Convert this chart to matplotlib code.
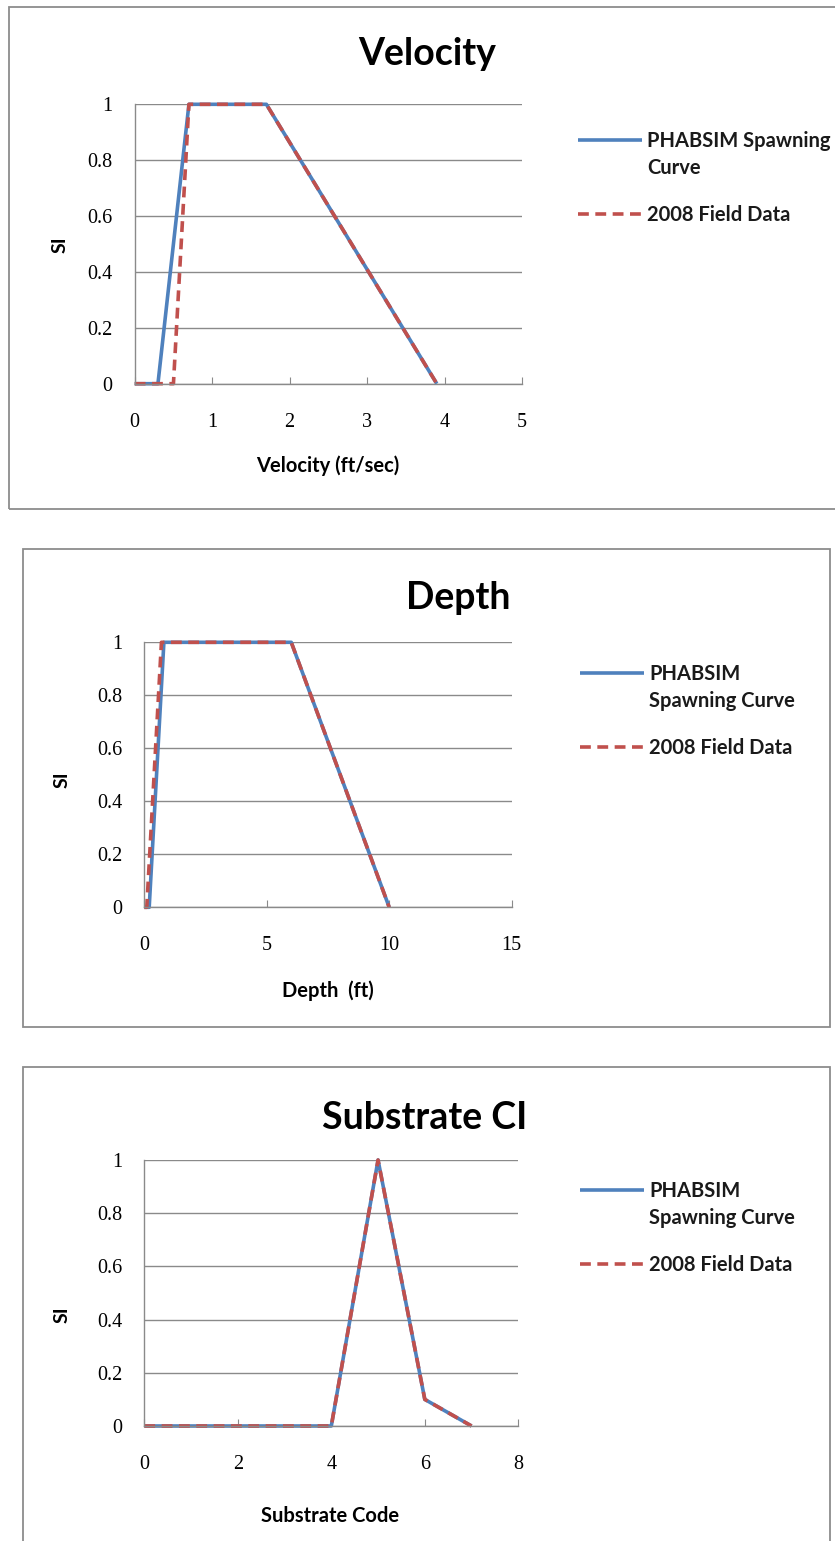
import matplotlib
matplotlib.use("Agg")
import matplotlib.pyplot as plt
from matplotlib.patches import Rectangle

# data
vel_curve_x = [0, 0.3, 0.7, 1.7, 3.9]
vel_curve_y = [0, 0, 1, 1, 0]
vel_field_x = [0, 0.5, 0.7, 1.7, 3.9]
vel_field_y = [0, 0, 1, 1, 0]

depth_curve_x = [0, 0.2, 0.8, 6, 10]
depth_curve_y = [0, 0, 1, 1, 0]
depth_field_x = [0, 0.1, 0.7, 6, 10]
depth_field_y = [0, 0, 1, 1, 0]

sub_curve_x = [0, 1, 2, 3, 4, 5, 6, 7]
sub_curve_y = [0, 0, 0, 0, 0, 1, 0.1, 0]
sub_field_x = [0, 1, 2, 3, 4, 5, 6, 7]
sub_field_y = [0, 0, 0, 0, 0, 1, 0.1, 0]

y_ticks = [0, 0.2, 0.4, 0.6, 0.8, 1]
y_tick_labels = ["0", "0.2", "0.4", "0.6", "0.8", "1"]

BLUE = "#4F81BD"
RED = "#C0504D"
GRID = "#8a8a8a"
SANS = "Lato"
SERIF = "Liberation Serif"

W, H = 835, 1541
fig = plt.figure(figsize=(W / 100, H / 100), dpi=100)


def px_box(x0, y0, x1, y1):
    # pixel box (top-left origin) -> figure fraction rect
    return [x0 / W, 1 - y1 / H, (x1 - x0) / W, (y1 - y0) / H]


def panel(x0, y0, x1, y1):
    l, b, w, h = px_box(x0, y0, x1, y1)
    fig.add_artist(Rectangle((l, b), w, h, transform=fig.transFigure,
                             fill=False, edgecolor="#8c8c8c", linewidth=1.3))


def make_chart(rect, cx, cy, fx, fy, xmax, xstep, title, title_xy,
               xlabel, xlabel_xy, ylabel_xy, legend_xy, curve_label):
    ax = fig.add_axes(px_box(*rect))
    line1, second = curve_label
    ax.plot(cx, cy, color=BLUE, lw=2.6, label=line1, solid_capstyle="butt")
    ax.plot(fx, fy, color=RED, lw=2.6, linestyle=(0, (3, 1.8)),
            label="2008 Field Data")
    ax.set_xlim(0, xmax)
    ax.set_ylim(0, 1)
    ax.set_xticks(list(range(0, xmax + 1, xstep)))
    ax.set_yticks(y_ticks)
    ax.set_yticklabels(y_tick_labels)
    for s in ["top", "right"]:
        ax.spines[s].set_visible(False)
    for s in ["left", "bottom"]:
        ax.spines[s].set_color(GRID)
        ax.spines[s].set_linewidth(1.0)
    ax.yaxis.grid(True, color=GRID, linewidth=1.0)
    ax.set_axisbelow(True)
    ax.tick_params(axis="x", direction="in", length=5, color=GRID, pad=21,
                   labelsize=14.5)
    ax.tick_params(axis="y", length=0, pad=16, labelsize=14.5)
    for lab in ax.get_xticklabels() + ax.get_yticklabels():
        lab.set_family(SERIF)
    for line in ax.lines:
        line.set_clip_on(False)

    fig.text(title_xy[0] / W, 1 - title_xy[1] / H, title, fontsize=27,
             fontweight="bold", family=SANS, ha="center", va="center")
    fig.text(xlabel_xy[0] / W, 1 - xlabel_xy[1] / H, xlabel, fontsize=14.5,
             fontweight="bold", family=SANS, ha="center", va="center")
    fig.text(ylabel_xy[0] / W, 1 - ylabel_xy[1] / H, "SI", fontsize=14,
             fontweight="bold", family=SANS, ha="center", va="center",
             rotation=90)
    leg = ax.legend(loc="upper left",
                    bbox_to_anchor=(legend_xy[0] / W, 1 - legend_xy[1] / H),
                    bbox_transform=fig.transFigure, frameon=False,
                    prop={"family": SANS, "weight": "bold", "size": 14.5},
                    handlelength=3.2, handletextpad=0.25, labelspacing=2.7,
                    borderpad=0, borderaxespad=0)
    for t in leg.get_texts():
        t.set_color("#1a1a1a")
    # wrapped second line of the first legend entry
    fig.canvas.draw()
    bb = leg.get_texts()[0].get_window_extent()
    fig.text(bb.x0 / W, (bb.y0 - 27) / H, second, fontsize=14.5,
             fontweight="bold", family=SANS, color="#1a1a1a",
             ha="left", va="bottom")
    return ax


# panel frames
panel(9, 7, 840, 509)
panel(23, 549, 830, 1027)
panel(23, 1067, 830, 1548)

make_chart((134.7, 104.3, 522, 383.7), vel_curve_x, vel_curve_y,
           vel_field_x, vel_field_y, 5, 1, "Velocity", (427, 54),
           "Velocity (ft/sec)", (328, 466), (60, 245), (578, 131),
           ("PHABSIM Spawning", "Curve"))

make_chart((144.3, 642.3, 511.7, 907.3), depth_curve_x, depth_curve_y,
           depth_field_x, depth_field_y, 15, 5, "Depth", (458, 598),
           "Depth  (ft)", (328, 991), (62, 780), (580, 664),
           ("PHABSIM", "Spawning Curve"))

make_chart((144.3, 1160, 518.3, 1426), sub_curve_x, sub_curve_y,
           sub_field_x, sub_field_y, 8, 2, "Substrate CI", (425, 1118),
           "Substrate Code", (330, 1516), (62, 1315), (580, 1181),
           ("PHABSIM", "Spawning Curve"))

fig.savefig("out.png", dpi=100)
